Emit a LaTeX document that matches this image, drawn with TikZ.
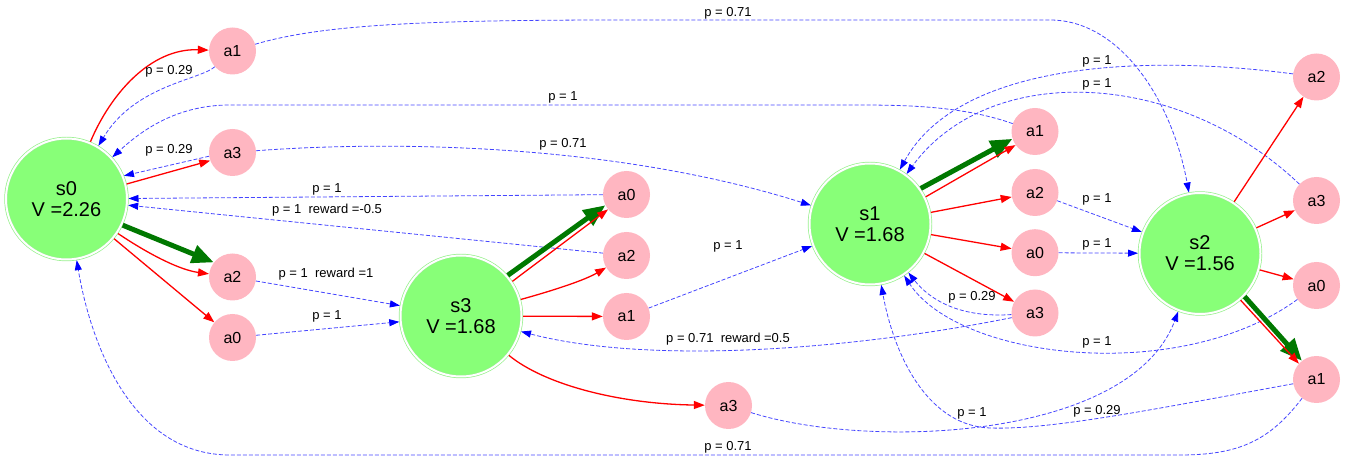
\documentclass[tikz,border=0pt]{standalone}
\usepackage{fontspec}
\setmainfont{Liberation Sans}
\usetikzlibrary{arrows.meta}
\definecolor{sfill}{RGB}{136,255,120}
\definecolor{sline}{RGB}{150,240,140}
\definecolor{apink}{RGB}{255,182,193}
\definecolor{bestg}{RGB}{0,120,0}
\definecolor{pblue}{RGB}{70,70,255}
\definecolor{hblue}{RGB}{0,0,255}
\begin{document}
\begin{tikzpicture}[x=1pt,y=-1pt,
 state/.style={circle, fill=sfill, draw=sline, double=white, double distance=2pt, line width=0.7pt, minimum size=121pt, inner sep=0pt, outer sep=1.5pt, align=center, font=\fontsize{20}{21}\selectfont},
 act/.style={circle, fill=apink, minimum size=47pt, inner sep=0pt, font=\fontsize{16}{16}\selectfont},
 lbl/.style={inner sep=0pt, font=\fontsize{13}{13}\selectfont},
 choose/.style={red, line width=1.3pt, -{Triangle[length=11pt,width=8pt]}},
 best/.style={bestg, line width=5pt, -{Triangle[length=22pt,width=18pt]}},
 trans/.style={pblue, line width=0.8pt, dash pattern=on 4pt off 2pt, -{Triangle[length=10pt,width=7pt,color=hblue]}},
]
\useasboundingbox (0,0) rectangle (1353,470);
% states
\node[state] (S0) at (66.5,199) {s0\\V =2.26};
\node[state] (S3) at (461,316) {s3\\V =1.68};
\node[state] (S1) at (870,224) {s1\\V =1.68};
\node[state] (S2) at (1200,253.5) {s2\\V =1.56};
% actions
\node[act] (s0a1) at (232.5,51) {a1};
\node[act] (s0a3) at (232.5,152.5) {a3};
\node[act] (s0a2) at (232.5,277) {a2};
\node[act] (s0a0) at (232.5,337.5) {a0};
\node[act] (s3a0) at (626.5,194.5) {a0};
\node[act] (s3a2) at (626.5,255.5) {a2};
\node[act] (s3a1) at (626.5,316.5) {a1};
\node[act] (s3a3) at (728.5,405.5) {a3};
\node[act] (s1a1) at (1035,131.5) {a1};
\node[act] (s1a2) at (1035,192.5) {a2};
\node[act] (s1a0) at (1035,252.7) {a0};
\node[act] (s1a3) at (1035,313) {a3};
\node[act] (s2a2) at (1316.5,77) {a2};
\node[act] (s2a3) at (1316.5,200.5) {a3};
\node[act] (s2a0) at (1316.5,285.5) {a0};
\node[act] (s2a1) at (1316.5,379.5) {a1};
% transitions
\draw[trans] (s0a1) .. controls (200,80) and (135,85) .. (S0);
\draw[trans] (s0a1) .. controls (320,25) and (420,20) .. (620,20) -- (1050,20) .. controls (1120,20) and (1172,100) .. (S2);
\draw[trans] (s0a3.189) -- (S0.22);
\draw[trans] (s0a3) .. controls (400,140) and (620,145) .. (S1);
\draw[trans] (s0a2) -- (S3);
\draw[trans] (s0a0) -- (S3);
\draw[trans] (s3a0) -- (S0);
\draw[trans] (s3a2) -- (S0);
\draw[trans] (s3a1) -- (S1);
\draw[trans] (s3a3) .. controls (870,450) and (1130,440) .. (S2);
\draw[trans] (s1a1) .. controls (960,105) and (900,105) .. (850,105) -- (230,105) .. controls (175,105) and (140,132) .. (S0);
\draw[trans] (s1a2) -- (S2);
\draw[trans] (s1a0) -- (S2);
\draw[trans] (s1a3) .. controls (960,318) and (930,300) .. (S1);
\draw[trans] (s1a3) .. controls (850,350) and (650,365) .. (S3);
\draw[trans] (s2a2) .. controls (1150,55) and (960,60) .. (S1);
\draw[trans] (s2a3) .. controls (1180,70) and (990,60) .. (S1);
\draw[trans] (s2a0) .. controls (1180,385) and (960,360) .. (S1);
\draw[trans] (s2a1) .. controls (1150,410) and (1050,430) .. (990,428) .. controls (930,426) and (895,360) .. (S1);
\draw[trans] (s2a1) .. controls (1270,440) and (1240,455) .. (1180,455) -- (230,455) .. controls (130,455) and (90,340) .. (S0);
% choices
\draw[choose] (S0) .. controls (110,95) and (150,48) .. (s0a1);
\draw[choose] (S0.14) -- (s0a3.200);
\draw[choose] (S0) .. controls (150,255) and (180,270) .. (s0a2);
\draw[best] (S0.-25) -- (s0a2.142);
\draw[choose] (S0) -- (s0a0);
\draw[best] (S3.41) -- (s3a0.207);
\draw[choose] (S3.34) -- (s3a0.219);
\draw[choose] (S3) .. controls (555,290) and (585,280) .. (s3a2);
\draw[choose] (S3) -- (s3a1);
\draw[choose] (S3) .. controls (545,385) and (620,404) .. (s3a3);
\draw[best] (S1.35) -- (s1a1.198);
\draw[choose] (S1.26) -- (s1a1.215);
\draw[choose] (S1) -- (s1a2);
\draw[choose] (S1) -- (s1a0);
\draw[choose] (S1) -- (s1a3);
\draw[choose] (S2) -- (s2a2);
\draw[choose] (S2) -- (s2a3);
\draw[choose] (S2) -- (s2a0);
\draw[best] (S2.316) -- (s2a1.128);
\draw[choose] (S2.311) -- (s2a1.138);
% labels
\node[lbl] (l01) at (169,71) {p = 0.29};
\node[lbl] (l02) at (169,150) {p = 0.29};
\node[lbl] (l03) at (327,189) {p = 1};
\node[lbl] (l04) at (327,210) {p = 1~~reward =-0.5};
\node[lbl] (l05) at (563,144) {p = 0.71};
\node[lbl] (l06) at (326,274) {p = 1~~reward =1};
\node[lbl] (l07) at (327,316) {p = 1};
\node[lbl] (l08) at (728,13) {p = 0.71};
\node[lbl] (l09) at (563,97) {p = 1};
\node[lbl] (l10) at (728,246) {p = 1};
\node[lbl] (l11) at (728,339) {p = 0.71~~reward =0.5};
\node[lbl] (l12) at (972,297) {p = 0.29};
\node[lbl] (l13) at (972,413) {p = 1};
\node[lbl] (l14) at (728,447) {p = 0.71};
\node[lbl] (l15) at (1097,61) {p = 1};
\node[lbl] (l16) at (1097,84) {p = 1};
\node[lbl] (l17) at (1097,199) {p = 1};
\node[lbl] (l18) at (1097,244) {p = 1};
\node[lbl] (l19) at (1097,342) {p = 1};
\node[lbl] (l20) at (1097,411) {p = 0.29};
\end{tikzpicture}
\end{document}
